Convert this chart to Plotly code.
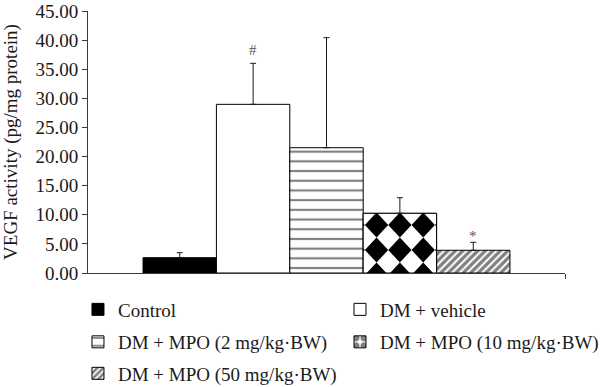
import plotly.graph_objects as go

# ---- data ----
groups = ["Control", "DM + vehicle", "DM + MPO (2 mg/kg·BW)",
          "DM + MPO (10 mg/kg·BW)", "DM + MPO (50 mg/kg·BW)"]
vegf_mean = [2.63, 28.97, 21.52, 10.25, 3.90]
vegf_err = [0.86, 7.04, 18.90, 2.68, 1.37]
sig_marks = ["", "#", "", "", "*"]
y_tick_vals = [0, 5, 10, 15, 20, 25, 30, 35, 40, 45]
y_tick_text = ["0.00", "5.00", "10.00", "15.00", "20.00", "25.00",
               "30.00", "35.00", "40.00", "45.00"]

# ---- styles ----
FONT = "Liberation Serif"
TXT_C = "#1a1a1a"
AXIS_C = "#3a3a3a"
fills = ["#000000", "#ffffff", "#ffffff", "#ffffff", "#ffffff"]
patterns = [
    None,
    None,
    dict(shape="-", size=9.7, solidity=0.22, fgcolor="#000000", bgcolor="#ffffff"),
    dict(shape=".", size=10, solidity=0.6, fgcolor="#000000", bgcolor="#ffffff"),
    dict(shape="/", size=5.3, solidity=0.62, fgcolor="#000000", bgcolor="#ffffff"),
]
mark_shift = {"#": 3, "*": -4}
BAR_W = 1.0
# checkerboard (diamond) fill geometry for the 10 mg bar, in axis units
DIA_HX, DIA_HY, DIA_PHASE = 0.159, 2.147, -0.34
# legend slots (paper fractions relative to the plot area): one legend per entry
legend_pos = [(-0.021, -0.0668), (0.5283, -0.0668), (-0.021, -0.1908),
              (0.5283, -0.1908), (-0.021, -0.311)]
legend_ids = ["legend", "legend2", "legend3", "legend4", "legend5"]

fig = go.Figure()
for i, name in enumerate(groups):
    marker = dict(color=fills[i], line=dict(color="#000000", width=1))
    if patterns[i]:
        marker["pattern"] = patterns[i]
    fig.add_trace(go.Bar(
        x=[i], y=[vegf_mean[i]], width=BAR_W, name=name, marker=marker,
        legend=legend_ids[i],
        error_y=dict(type="data", array=[vegf_err[i]], arrayminus=[0],
                     symmetric=False, color="#1a1a1a", thickness=1, width=3),
        hoverinfo="skip",
    ))


def clip_poly(poly, x0, x1, y0, y1):
    def clip(pts, inside, inter):
        out = []
        n = len(pts)
        for k in range(n):
            cur, prev = pts[k], pts[k - 1]
            if inside(cur):
                if not inside(prev):
                    out.append(inter(prev, cur))
                out.append(cur)
            elif inside(prev):
                out.append(inter(prev, cur))
        return out

    def ix(a, b, xv):
        t = (xv - a[0]) / (b[0] - a[0])
        return (xv, a[1] + t * (b[1] - a[1]))

    def iy(a, b, yv):
        t = (yv - a[1]) / (b[1] - a[1])
        return (a[0] + t * (b[0] - a[0]), yv)

    pts = poly
    for inside, inter in [
        (lambda p: p[0] >= x0, lambda a, b: ix(a, b, x0)),
        (lambda p: p[0] <= x1, lambda a, b: ix(a, b, x1)),
        (lambda p: p[1] >= y0, lambda a, b: iy(a, b, y0)),
        (lambda p: p[1] <= y1, lambda a, b: iy(a, b, y1)),
    ]:
        if not pts:
            break
        pts = clip(pts, inside, inter)
    return pts


# diamond checkerboard overlay on the 10 mg bar
di = 3
bx0, bx1 = di - BAR_W / 2, di + BAR_W / 2
by0, by1 = 0, vegf_mean[di]
fig.add_trace(go.Scatter(x=[bx0, bx1, bx1, bx0, bx0], y=[by0, by0, by1, by1, by0],
                         mode="lines", fill="toself", fillcolor="#ffffff",
                         line=dict(width=0), showlegend=False, hoverinfo="skip"))
dx, dy = [], []
for k in range(-4, 5):
    cx = di + k * 2 * DIA_HX
    j = -1
    while True:
        cy = DIA_PHASE + j * 2 * DIA_HY
        if cy - DIA_HY > by1:
            break
        poly = [(cx, cy - DIA_HY), (cx + DIA_HX, cy), (cx, cy + DIA_HY), (cx - DIA_HX, cy)]
        c = clip_poly(poly, bx0, bx1, by0, by1)
        if len(c) >= 3:
            dx += [p[0] for p in c] + [c[0][0], None]
            dy += [p[1] for p in c] + [c[0][1], None]
        j += 1
fig.add_trace(go.Scatter(x=dx, y=dy, mode="lines", fill="toself", fillcolor="#000000",
                         line=dict(width=0, color="#000000"), showlegend=False,
                         hoverinfo="skip", connectgaps=False))
fig.add_trace(go.Scatter(x=[bx0, bx1, bx1, bx0, bx0], y=[by0, by0, by1, by1, by0],
                         mode="lines", line=dict(width=1, color="#000000"),
                         showlegend=False, hoverinfo="skip"))

for i, m in enumerate(sig_marks):
    if m:
        fig.add_annotation(x=i, y=vegf_mean[i] + vegf_err[i], text=m, showarrow=False,
                           yanchor="bottom", yshift=mark_shift.get(m, 0),
                           font=dict(family=FONT, size=15, color="#555555"))

layout_legends = {}
for lid, (lx, ly) in zip(legend_ids, legend_pos):
    layout_legends[lid] = dict(orientation="h", x=lx, xanchor="left", y=ly, yanchor="top",
                               font=dict(family=FONT, size=19, color=TXT_C),
                               bgcolor="rgba(0,0,0,0)", borderwidth=0)

fig.update_layout(
    width=600, height=387,
    margin=dict(l=88, r=35, t=11, b=114, autoexpand=False),
    paper_bgcolor="#ffffff", plot_bgcolor="#ffffff",
    barmode="overlay",
    font=dict(family=FONT, size=19, color=TXT_C),
    showlegend=True,
    **layout_legends,
)
fig.update_xaxes(range=[-1.25, 5.25], showgrid=False, zeroline=False,
                 showline=True, linecolor=AXIS_C, linewidth=1,
                 tickmode="array", tickvals=[5.25], ticktext=[""],
                 ticks="outside", ticklen=5, tickcolor=AXIS_C)
fig.update_yaxes(range=[0, 45], showgrid=False, zeroline=False,
                 showline=True, linecolor=AXIS_C, linewidth=1,
                 tickmode="array", tickvals=y_tick_vals, ticktext=y_tick_text,
                 ticks="outside", ticklen=5, tickcolor=AXIS_C,
                 tickfont=dict(family=FONT, size=19, color=TXT_C),
                 title=dict(text="VEGF activity (pg/mg protein)", standoff=18,
                            font=dict(family=FONT, size=19, color=TXT_C)),
                 automargin=False)

fig.write_html("out.html", config={"displayModeBar": False},
               post_script="document.body.style.margin='0';document.body.style.overflow='hidden';")
